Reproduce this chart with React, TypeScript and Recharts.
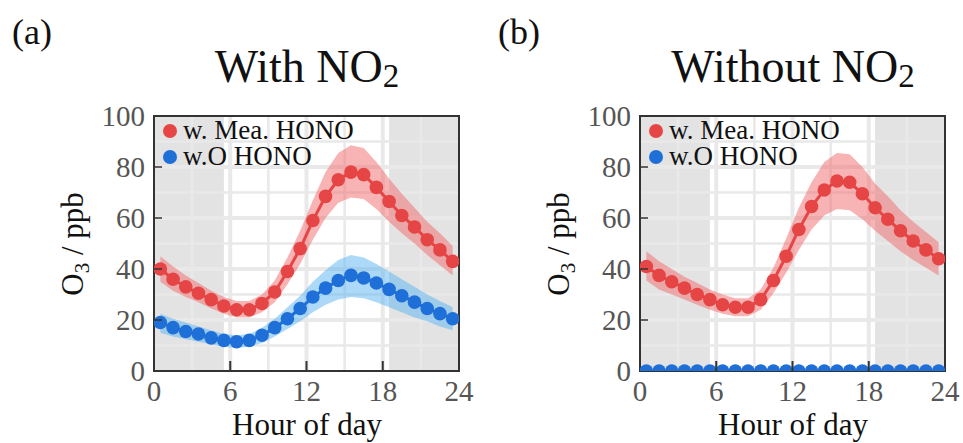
import { Area, ComposedChart, Line, ReferenceArea, ReferenceLine, XAxis, YAxis } from "recharts";

const hours = [0.5, 1.5, 2.5, 3.5, 4.5, 5.5, 6.5, 7.5, 8.5, 9.5, 10.5, 11.5, 12.5, 13.5, 14.5, 15.5, 16.5, 17.5, 18.5, 19.5, 20.5, 21.5, 22.5, 23.5];

// (a) With NO2
const redA = [40, 36, 33, 30.5, 28, 25.5, 24, 24, 26.5, 31, 39, 48, 59, 68.5, 75, 78, 77, 72, 66.5, 61, 56.5, 51.5, 47.5, 43];
const redAHigh = [45, 41, 37.5, 34.5, 31.5, 29, 27.5, 27.5, 30, 35.5, 44.5, 55, 67, 78, 85.5, 88.5, 87.5, 82, 75.5, 69.5, 64, 58.5, 54, 49];
const redALow = [35, 31.5, 29, 27, 24.5, 22.5, 21, 21, 23, 27, 34, 42, 51.5, 60, 66, 68, 67.5, 63.5, 58.5, 54, 50, 45.5, 41.5, 37.5];
const blueA = [19, 17, 15.5, 14.5, 13, 12, 11.5, 12, 14, 17, 20.5, 24.5, 29, 32.5, 35.5, 37.5, 36.5, 34.5, 32, 29.5, 27, 24.5, 22.5, 20.5];
const blueAHigh = [22.5, 20.5, 19, 17.5, 16, 14.5, 14, 14.5, 17, 20.5, 25, 29.5, 35, 39.5, 43.5, 45.5, 44.5, 42, 39, 36, 33, 30, 27.5, 25];
const blueALow = [15, 13.5, 12.5, 11.5, 10.5, 9.5, 9, 9.5, 11, 13.5, 16.5, 19.5, 23, 26, 28, 29, 28.5, 27, 25, 23, 21, 19.5, 17.5, 16];

// (b) Without NO2
const redB = [41, 37.5, 35, 32.5, 30, 28, 26, 25, 25, 28, 35.5, 45, 55.5, 64.5, 71, 74.5, 74, 69.5, 64, 59.5, 55, 51, 47.5, 44];
const redBHigh = [47, 43, 40, 37, 34.5, 32, 30, 28.5, 28.5, 32, 40.5, 52, 64, 74, 82, 85.5, 85, 80, 73.5, 68.5, 63, 58.5, 54.5, 50.5];
const redBLow = [35.5, 32, 30, 28, 26, 24, 22.5, 21.5, 21.5, 24, 30.5, 38.5, 47.5, 55.5, 61, 63.5, 63, 59.5, 55, 51, 47, 43.5, 40.5, 37.5];
const blueB = [0, 0, 0, 0, 0, 0, 0, 0, 0, 0, 0, 0, 0, 0, 0, 0, 0, 0, 0, 0, 0, 0, 0, 0];

const xTicks = [0, 6, 12, 18, 24];
const yTicks = [0, 20, 40, 60, 80, 100];
const gridX = [3, 6, 9, 12, 15, 18, 21];
const gridY = [10, 20, 30, 40, 50, 60, 70, 80, 90];
const nightSpans = [[0, 5.5], [18.5, 24]];
const legendNames = ["w. Mea. HONO", "w.O HONO"];

const FONT = '"Liberation Serif", "Times New Roman", serif';
const RED = "#e64545";
const BLUE = "#1f6fd8";
const PLOT_BOTTOM = 371;
const PLOT_LEFT = 154;

const rowsA = hours.map((h, i) => ({
  hour: h,
  red: redA[i],
  redBand: [redALow[i], redAHigh[i]],
  blue: blueA[i],
  blueBand: [blueALow[i], blueAHigh[i]]
}));

const rowsB = hours.map((h, i) => ({
  hour: h,
  red: redB[i],
  redBand: [redBLow[i], redBHigh[i]],
  blue: blueB[i]
}));

const XTick = (props: any) => {
  const { x, y, payload } = props;
  const v = payload.value;
  return (
    <g>
      {v > 0 && v < 24 && (
        <line x1={x} x2={x} y1={PLOT_BOTTOM} y2={PLOT_BOTTOM - 10} stroke="#333" strokeWidth={2} />
      )}
      <text x={x} y={y} dy="0.71em" textAnchor="middle" fill="#555" fontSize={29} fontFamily={FONT}>
        {v}
      </text>
    </g>
  );
};

const YTick = (props: any) => {
  const { x, y, payload } = props;
  const v = payload.value;
  return (
    <g>
      {v > 0 && v < 100 && (
        <line x1={PLOT_LEFT} x2={PLOT_LEFT + 8} y1={y} y2={y} stroke="#333" strokeWidth={1.5} />
      )}
      <text x={x} y={y} dy="0.355em" textAnchor="end" fill="#555" fontSize={29} fontFamily={FONT}>
        {v}
      </text>
    </g>
  );
};

function Panel({ left, rows, blueBand }: { left: number; rows: any[]; blueBand: boolean }) {
  return (
    <div style={{ position: "absolute", left, top: 0 }}>
      <ComposedChart width={477} height={443} data={rows} margin={{ top: 116, right: 18, bottom: 42, left: 94 }}>
        {nightSpans.map(([a, b]) => (
          <ReferenceArea key={"n" + a} x1={a} x2={b} y1={0} y2={100} fill="#e3e3e3" fillOpacity={1} stroke="none" zIndex={-300} />
        ))}
        {gridX.map((v) => (
          <ReferenceLine key={"gx" + v} x={v} stroke="#e9e9e9" strokeWidth={v % 6 === 0 ? 4 : 2.5} zIndex={-250} />
        ))}
        {gridY.map((v) => (
          <ReferenceLine key={"gy" + v} y={v} stroke="#e9e9e9" strokeWidth={v % 20 === 0 ? 4 : 2.5} zIndex={-250} />
        ))}
        <Area type="linear" dataKey="redBand" stroke="none" fill="#f26a6a" fillOpacity={0.5} isAnimationActive={false} />
        {blueBand && (
          <Area type="linear" dataKey="blueBand" stroke="none" fill="#5ab4f0" fillOpacity={0.5} isAnimationActive={false} />
        )}
        <Line type="linear" dataKey="red" stroke={RED} strokeWidth={3} dot={{ r: 6.8, fill: RED, stroke: "none" }} isAnimationActive={false} />
        <Line type="linear" dataKey="blue" stroke={BLUE} strokeWidth={3} dot={{ r: 6.8, fill: BLUE, stroke: "none" }} isAnimationActive={false} />
        <ReferenceArea x1={0} x2={24} y1={0} y2={100} fill="none" stroke="#333" strokeWidth={2} zIndex={450} />
        <XAxis
          dataKey="hour"
          type="number"
          domain={[0, 24]}
          ticks={xTicks}
          interval={0}
          height={30}
          axisLine={false}
          tickLine={false}
          tickSize={0}
          tickMargin={9}
          tick={<XTick />}
          allowDataOverflow
        />
        <YAxis
          type="number"
          domain={[0, 100]}
          ticks={yTicks}
          interval={0}
          width={60}
          axisLine={false}
          tickLine={false}
          tickSize={0}
          tickMargin={9}
          tick={<YTick />}
          allowDataOverflow
        />
      </ComposedChart>
    </div>
  );
}

function Captions({ dx, tag, title }: { dx: number; tag: string; title: string }) {
  return (
    <g fontFamily={FONT} fill="#111">
      <text x={12 + dx} y={44} fontSize={36}>{tag}</text>
      <text x={307 + dx} y={82} fontSize={46} textAnchor="middle">
        {title} NO<tspan fontSize={33} dy={5}>2</tspan>
      </text>
      <text transform={`translate(${83 + dx},244) rotate(-90)`} fontSize={31} textAnchor="middle">
        O<tspan fontSize={21} dy={6}>3</tspan><tspan dy={-6}> / ppb</tspan>
      </text>
      <text x={307 + dx} y={435} fontSize={31} textAnchor="middle">Hour of day</text>
      <circle cx={170 + dx} cy={131} r={7} fill={RED} />
      <text x={183 + dx} y={139} fontSize={27}>{legendNames[0]}</text>
      <circle cx={170 + dx} cy={157} r={7} fill={BLUE} />
      <text x={183 + dx} y={165} fontSize={27}>{legendNames[1]}</text>
    </g>
  );
}

export default function App() {
  return (
    <div style={{ position: "absolute", left: 0, top: 0, width: 963, height: 443, background: "#fff", overflow: "hidden" }}>
      <Panel left={0} rows={rowsA} blueBand={true} />
      <Panel left={486} rows={rowsB} blueBand={false} />
      <svg width={963} height={443} style={{ position: "absolute", left: 0, top: 0, pointerEvents: "none" }}>
        <Captions dx={0} tag="(a)" title="With" />
        <Captions dx={486} tag="(b)" title="Without" />
      </svg>
    </div>
  );
}
